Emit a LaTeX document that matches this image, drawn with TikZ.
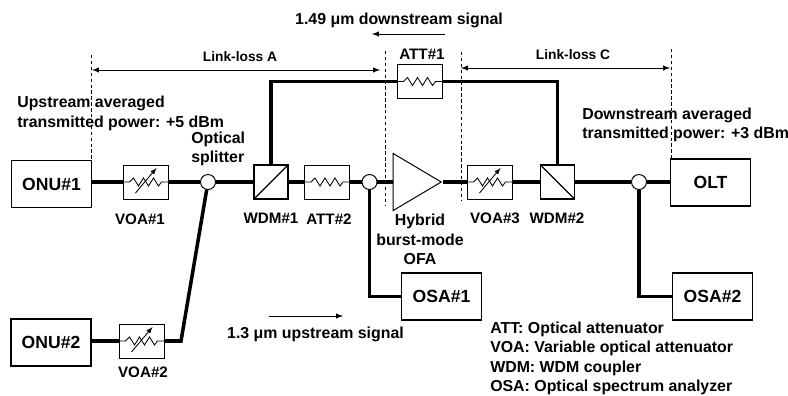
\documentclass[tikz,border=0pt]{standalone}
\usepackage{fontspec}
\setmainfont{Liberation Sans}
\usetikzlibrary{arrows,shapes.geometric}

\begin{document}
\begin{tikzpicture}[x=0.025cm, y=-0.025cm]

\tikzset{
  fibre/.style={line width=2.5pt},
  guide/.style={line width=.7pt, dash pattern=on 2.4pt off 1.8pt},
  span/.style={<->, >=latex, line width=.7pt},
  flow/.style={->, >=latex, line width=.7pt},
  caption/.style={font=\fontsize{11.3}{13.8}\selectfont\bfseries, inner sep=0pt, align=center},
  partname/.style={caption, font=\fontsize{10.8}{13.8}\selectfont\bfseries},
  lossname/.style={caption, font=\fontsize{9.8}{12}\selectfont\bfseries},
  devicebox/.style={draw, line width=.9pt, fill=white, minimum width=2cm, minimum height=1.18cm,
    inner sep=0pt, font=\fontsize{12.5}{14}\selectfont\bfseries},
  attbox/.style={draw, line width=.7pt, fill=white, minimum width=1.125cm, minimum height=.85cm,
    inner sep=0pt, path picture={
      \draw[shift={(path picture bounding box.center)}, line width=.6pt]
        (-23,0) -- (-16,0) -- (-12,-4) -- (-7,4) -- (-2,-4) -- (3,4) -- (8,-4) -- (13,4) -- (16,0) -- (23,0);
    }},
  voabox/.style={attbox, path picture={
      \draw[shift={(path picture bounding box.center)}, line width=.6pt]
        (-23,0) -- (-16,0) -- (-12,-4) -- (-7,4) -- (-2,-4) -- (3,4) -- (8,-4) -- (13,4) -- (16,0) -- (23,0);
      \draw[shift={(path picture bounding box.center)}, ->, >=latex, line width=.6pt] (-10,11) -- (11,-14);
    }},
  wdmup/.style={draw, line width=.9pt, fill=white, minimum size=.85cm, inner sep=0pt, path picture={
      \draw[line width=.9pt] (path picture bounding box.south west) -- (path picture bounding box.north east);
    }},
  wdmdown/.style={draw, line width=.9pt, fill=white, minimum size=.85cm, inner sep=0pt, path picture={
      \draw[line width=.9pt] (path picture bounding box.north west) -- (path picture bounding box.south east);
    }},
  tap/.style={draw, circle, line width=.7pt, fill=white, minimum size=.375cm, inner sep=0pt}
}

\useasboundingbox (0,0) rectangle (788,395);

\node[devicebox] (onu1) at (51.5,184) {ONU\#1};
\node[devicebox] (onu2) at (51,342.5) {ONU\#2};
\node[devicebox] (olt) at (710.5,182.5) {OLT};
\node[devicebox] (osa1) at (441.5,296.5) {OSA\#1};
\node[devicebox] (osa2) at (712.5,296.5) {OSA\#2};

\node[voabox] (voa1) at (145.5,182) {};
\node[voabox] (voa2) at (141.5,341) {};
\node[voabox] (voa3) at (489.5,182) {};
\node[attbox] (att1) at (419.5,81.5) {};
\node[attbox] (att2) at (327,182) {};
\node[wdmup] (wdm1) at (271,182) {};
\node[wdmdown] (wdm2) at (557.5,182) {};
\node[tap] (tap1) at (208,182) {};
\node[tap] (tap2) at (369.5,182) {};
\node[tap] (tap3) at (639,182) {};
\node[draw, line width=.7pt, fill=white, isosceles triangle, isosceles triangle stretches, inner sep=0pt,
  minimum width=1.425cm, minimum height=1.2cm, anchor=apex] (ofa) at (442.5,182) {};

\coordinate (bend) at (181,341);

\draw[fibre] (onu1.east |- voa1) -- (voa1);
\draw[fibre] (voa1) -- (tap1);
\draw[fibre] (tap1) -- (wdm1);
\draw[fibre] (wdm1) -- (att2);
\draw[fibre] (att2) -- (tap2);
\draw[fibre] (tap2) -- (ofa.west);
\draw[fibre] (ofa.apex) -- (voa3);
\draw[fibre] (voa3) -- (wdm2);
\draw[fibre] (wdm2) -- (tap3);
\draw[fibre] (tap3) -- (olt.west |- tap3);
\draw[fibre] (onu2.east |- voa2) -- (voa2);
\draw[fibre] (voa2) -- (bend) -- (tap1);
\draw[fibre] (wdm1.north) |- (att1.west);
\draw[fibre] (att1.east) -| (wdm2.north);
\draw[fibre] (tap2.south) |- (osa1.west);
\draw[fibre] (tap3.south) |- (osa2.west);

\coordinate (guideA1) at (91,55);
\coordinate (guideA2) at (91,160);
\coordinate (guideB1) at (385,51);
\coordinate (guideB2) at (385,205);
\coordinate (guideC1) at (461,52);
\coordinate (guideC2) at (461,200);
\coordinate (guideD1) at (671,49);
\coordinate (guideD2) at (671,160);
\draw[guide] (guideA1) -- (guideA2);
\draw[guide] (guideB1) -- (guideB2);
\draw[guide] (guideC1) -- (guideC2);
\draw[guide] (guideD1) -- (guideD2);

\coordinate (lossA1) at (92,70);
\coordinate (lossA2) at (380,70);
\coordinate (lossC1) at (461,68);
\coordinate (lossC2) at (670,68);
\coordinate (down1) at (445,34);
\coordinate (down2) at (372,34);
\coordinate (up1) at (269,316);
\coordinate (up2) at (343,316);
\draw[span] (lossA1) -- (lossA2);
\draw[span] (lossC1) -- (lossC2);
\draw[flow] (down1) -- (down2);
\draw[flow] (up1) -- (up2);

\node[lossname] (lblA) at (240,57) {Link-loss A};
\node[lossname] (lblC) at (573,55) {Link-loss C};
\node[caption] (lbldown) at (399,20) {1.49 μm downstream signal};
\node[caption] (lblup) at (315.5,334) {1.3 μm upstream signal};
\node[caption, align=left, anchor=west] (lblpowerup) at (17,113.5) {Upstream averaged\\transmitted power: +5 dBm};
\node[caption, align=left, anchor=west] (lblpowerdown) at (582,125) {Downstream averaged\\transmitted power: +3 dBm};
\node[caption, align=left, anchor=west] (lblsplit) at (191,149) {Optical\\splitter};
\node[partname] (lblatt1) at (422,54.5) {ATT\#1};
\node[partname] (lblvoa1) at (140,219) {VOA\#1};
\node[partname] (lblvoa2) at (143,372) {VOA\#2};
\node[partname] (lblvoa3) at (495,218) {VOA\#3};
\node[partname] (lblwdm1) at (271,218) {WDM\#1};
\node[partname] (lblwdm2) at (557,218) {WDM\#2};
\node[partname] (lblatt2) at (329,219) {ATT\#2};
\node[caption] (lblofa) at (420,239.5) {Hybrid\\burst-mode\\OFA};
\node[caption, align=left, anchor=north west] (lbllegend) at (490,321.5) {ATT: Optical attenuator\\VOA: Variable optical attenuator\\WDM: WDM coupler\\OSA: Optical spectrum analyzer};

\end{tikzpicture}
\end{document}
